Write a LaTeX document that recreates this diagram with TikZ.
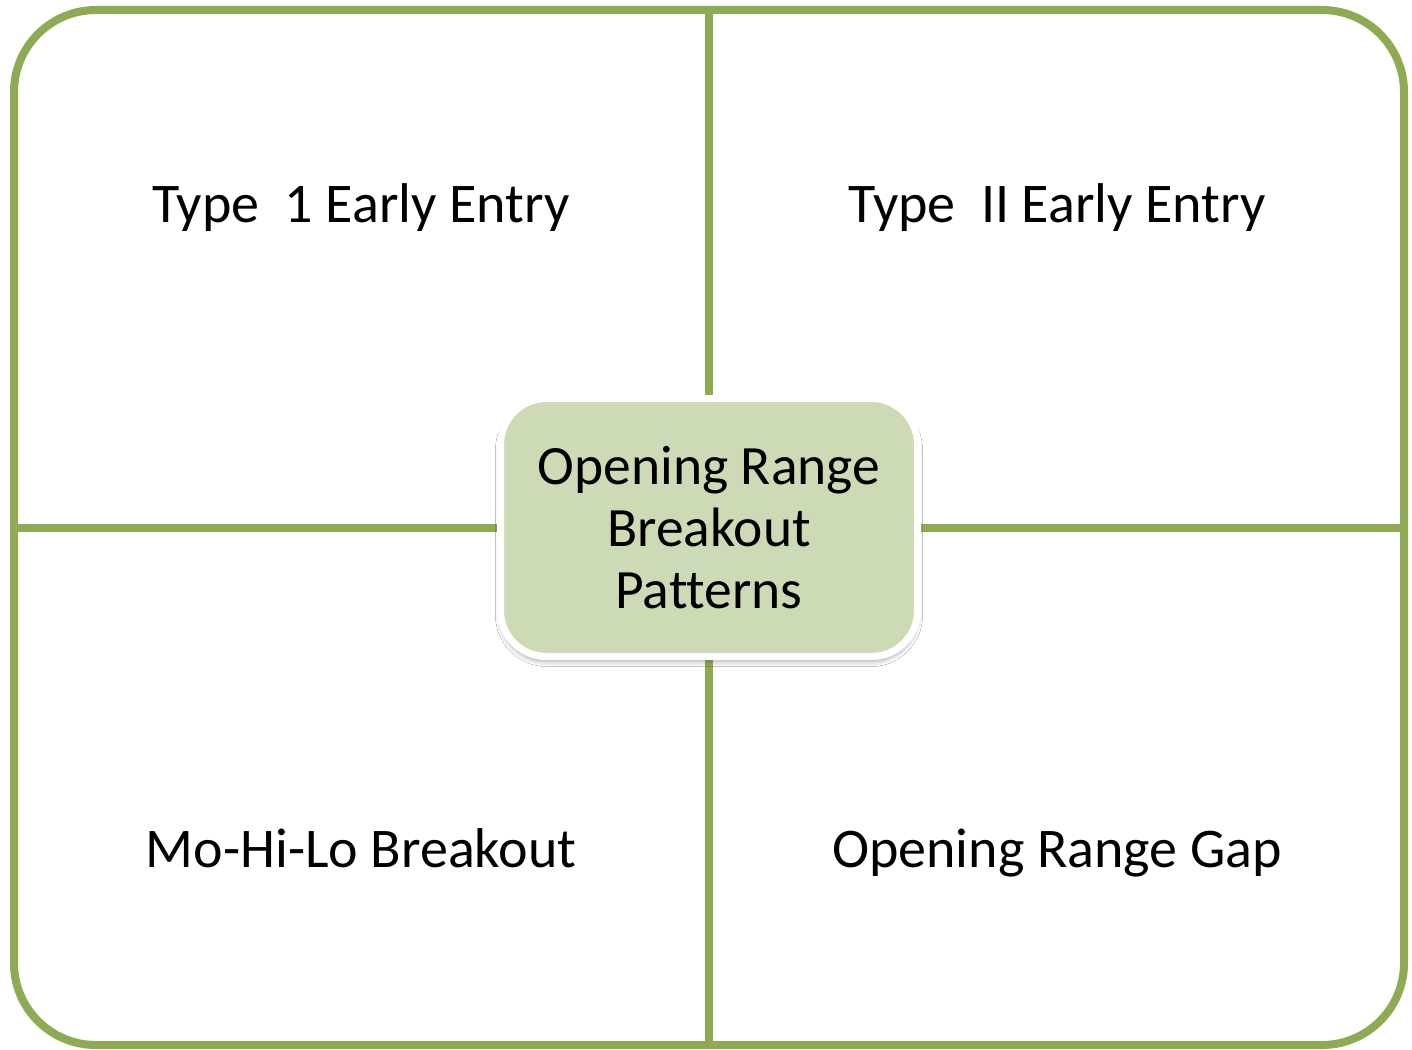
\documentclass[tikz,border=0pt]{standalone}
\usepackage{fontspec}
\setmainfont{Carlito}[Ligatures=NoCommon]
\usetikzlibrary{shadows.blur}
\definecolor{frameGreen}{HTML}{8EAA52}
\definecolor{boxGreen}{HTML}{CDDAB6}
\begin{document}
\begin{tikzpicture}[x=1pt,y=-1pt,
  frameline/.style={draw=frameGreen,line width=8pt},
  quadtext/.style={font=\fontsize{56}{62}\selectfont,anchor=base,inner sep=0pt},
  centerbox/.style={draw=white,line width=7pt,fill=boxGreen,rounded corners=46pt,
    minimum width=417pt,minimum height=258pt,align=center,inner sep=0pt,
    font=\fontsize{55.5}{62}\selectfont,
    blur shadow={shadow xshift=0pt,shadow yshift=-5pt,shadow blur radius=5pt,shadow opacity=35}}
]
\useasboundingbox (0,0) rectangle (1412,1049);
\node[frameline,fill=white,rounded corners=82pt,minimum width=1390pt,minimum height=1035pt,inner sep=0pt,
  blur shadow={shadow xshift=-2pt,shadow yshift=-2pt,shadow blur radius=3pt,shadow opacity=25}] (frame) at (709,527.5) {};
\draw[frameline] (frame.north) -- (frame.south);
\draw[frameline] (frame.west) -- (frame.east);
\node[centerbox] (c) at (709,527.5) {Opening Range\\Breakout\\Patterns};
\node[quadtext] (q1) at (361,222) {Type\ \ 1 Early Entry};
\node[quadtext] (q2) at (1057,222) {Type\ \ II Early Entry};
\node[quadtext] (q3) at (361,867) {Mo-Hi-Lo Breakout};
\node[quadtext] (q4) at (1057,867) {Opening Range Gap};
\end{tikzpicture}
\end{document}
